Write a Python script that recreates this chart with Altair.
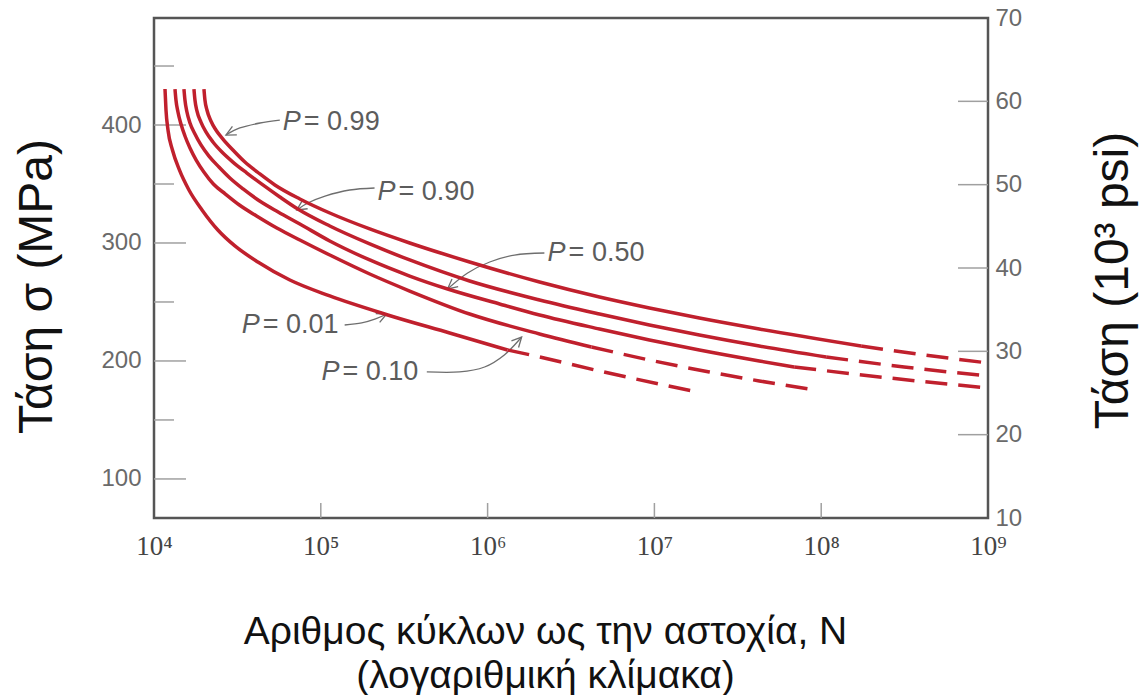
import altair as alt
import pandas as pd

# ---------------- data (N = cycles to failure, S = stress in MPa) ----------------
p99_N = [1.993e4, 2.020e4, 2.077e4, 2.194e4, 2.351e4, 2.590e4, 2.972e4, 3.507e4, 4.313e4, 5.305e4, 7.488e4,
         1.132e5, 1.965e5, 3.412e5, 7.803e5, 2.048e6, 4.686e6, 9.335e6, 1.860e7, 4.254e7, 1.736e8]
p99_S = [430.5, 421.2, 412.7, 403.4, 395.8, 388.1, 378.8, 368.6, 358.5, 349.2, 337.3,
         325.4, 311.9, 300.0, 283.9, 266.9, 254.2, 244.9, 236.4, 227.1, 212.7]
p99_dN = [1.736e8, 4.139e8, 1e9]
p99_dS = [212.7, 205.1, 198.3]

p90_N = [1.736e4, 1.760e4, 1.809e4, 1.912e4, 2.048e4, 2.256e4, 2.554e4, 2.972e4, 3.605e4, 4.495e4, 5.684e4,
         7.284e4, 1.132e5, 1.965e5, 3.412e5, 7.803e5, 2.048e6, 4.686e6, 9.335e6, 1.860e7, 4.254e7, 1.071e8]
p90_S = [430.5, 421.2, 411.9, 402.5, 394.1, 385.6, 377.1, 368.6, 359.3, 349.2, 339.0,
         328.8, 314.4, 299.2, 285.6, 267.8, 251.7, 239.8, 230.5, 222.0, 212.7, 203.4]
p90_dN = [1.071e8, 3.141e8, 1e9]
p90_dS = [203.4, 194.9, 187.3]

p50_N = [1.512e4, 1.533e4, 1.576e4, 1.643e4, 1.760e4, 1.912e4, 2.135e4, 2.451e4, 2.850e4, 3.420e4, 4.300e4,
         5.550e4, 7.488e4, 1.132e5, 1.965e5, 3.412e5, 5.762e5, 1.180e6, 2.048e6, 4.686e6, 9.335e6, 1.860e7,
         4.254e7, 6.890e7]
p50_S = [430.5, 421.2, 411.0, 401.7, 392.4, 383.1, 373.7, 364.4, 355.1, 345.8, 335.6,
         326.3, 316.1, 301.7, 285.6, 272.0, 261.0, 248.3, 239.0, 227.1, 217.8, 209.3,
         200.0, 194.9]
p50_dN = [6.890e7, 2.554e8, 1e9]
p50_dS = [194.9, 185.6, 177.1]

p10_N = [1.336e4, 1.354e4, 1.392e4, 1.451e4, 1.533e4, 1.643e4, 1.790e4, 1.990e4, 2.270e4, 2.680e4, 3.250e4,
         4.120e4, 5.450e4, 7.488e4, 1.132e5, 1.965e5, 3.412e5, 7.803e5, 2.048e6, 4.196e6]
p10_S = [430.5, 421.2, 411.0, 400.8, 390.7, 380.5, 370.3, 360.2, 350.0, 341.5, 332.2,
         322.9, 312.7, 302.5, 289.8, 273.7, 259.3, 239.8, 222.9, 211.9]
p10_dN = [4.196e6, 9.335e6, 2.135e7, 4.254e7, 8.478e7]
p10_dS = [211.9, 200.8, 190.7, 183.1, 176.3]

p01_N = [1.164e4, 1.180e4, 1.213e4, 1.290e4, 1.420e4, 1.620e4, 1.940e4, 2.415e4, 3.055e4, 4.196e4, 6.523e4,
         1.132e5, 2.519e5, 5.923e5, 1.318e6]
p01_S = [430.5, 412.7, 395.8, 378.8, 361.9, 344.9, 328.0, 311.0, 297.5, 283.9, 268.6,
         255.1, 239.0, 223.7, 209.3]
p01_dN = [1.318e6, 2.048e6, 4.686e6, 1.689e7]
p01_dS = [209.3, 203.4, 191.5, 174.6]

# annotation labels
label_P = ["0.99", "0.90", "0.50", "0.01", "0.10"]
label_N = [5.92e4, 2.19e5, 2.29e6, 3.36e4, 1.01e5]
label_S = [402.5, 343.2, 291.5, 230.5, 190.7]

# annotation arrows (label -> curve)
arrow_99_N = [5.68e4, 4.32e4, 3.27e4, 2.70e4]
arrow_99_S = [404.2, 401.7, 397.5, 391.5]
arrow_90_N = [2.10e5, 1.49e5, 1.06e5, 8.36e4, 7.18e4]
arrow_90_S = [346.6, 344.9, 339.8, 333.9, 328.0]
arrow_50_N = [2.19e6, 1.45e6, 1.03e6, 7.59e5, 5.75e5]
arrow_50_S = [291.5, 289.8, 283.9, 274.6, 261.0]
arrow_01_N = [1.39e5, 1.76e5, 2.13e5, 2.48e5]
arrow_01_S = [230.5, 232.2, 235.6, 239.8]
arrow_10_N = [4.32e5, 6.79e5, 9.59e5, 1.26e6, 1.60e6]
arrow_10_S = [190.7, 190.7, 194.9, 205.1, 220.3]
arrow_head_angle = [153, 147, 141, 336, 313]

# axis ticks
mpa_major = [100, 200, 300, 400]
mpa_minor = [150, 250, 350, 450]
ksi_ticks = [20, 30, 40, 50, 60]
ksi_labels = [10, 20, 30, 40, 50, 60, 70]
decades = [1e4, 1e5, 1e6, 1e7, 1e8, 1e9]

# ---------------- build tables ----------------
curves = [
    ("0.99", p99_N, p99_S, p99_dN, p99_dS),
    ("0.90", p90_N, p90_S, p90_dN, p90_dS),
    ("0.50", p50_N, p50_S, p50_dN, p50_dS),
    ("0.10", p10_N, p10_S, p10_dN, p10_dS),
    ("0.01", p01_N, p01_S, p01_dN, p01_dS),
]
solid_rows, dash_rows = [], []
for p, n, s, dn, ds in curves:
    for i, (a, b) in enumerate(zip(n, s)):
        solid_rows.append({"N": a, "S": b, "P": p, "i": i})
    for i, (a, b) in enumerate(zip(dn, ds)):
        dash_rows.append({"N": a, "S": b, "P": p, "i": i})
df_solid = pd.DataFrame(solid_rows)
df_dash = pd.DataFrame(dash_rows)

arrows = [
    ("0.99", arrow_99_N, arrow_99_S),
    ("0.90", arrow_90_N, arrow_90_S),
    ("0.50", arrow_50_N, arrow_50_S),
    ("0.01", arrow_01_N, arrow_01_S),
    ("0.10", arrow_10_N, arrow_10_S),
]
arrow_rows, head_rows = [], []
for k, (p, n, s) in enumerate(arrows):
    for i, (a, b) in enumerate(zip(n, s)):
        arrow_rows.append({"N": a, "S": b, "P": p, "i": i})
    head_rows.append({"N": n[-1], "S": s[-1], "ang": arrow_head_angle[k]})
df_arrow = pd.DataFrame(arrow_rows)
df_head = pd.DataFrame(head_rows)

df_labels = pd.DataFrame({"N": label_N, "S": label_S,
                          "rest": ["= " + p for p in label_P], "P": ["P"] * len(label_P)})

RED = "#c0202d"
GRAY_TEXT = "#5c5c5c"
TICK = "#a0a0a0"
W, H = 834, 500

ax_bottom = alt.Axis(
    values=decades,
    labelExpr="'10' + ['⁰','¹','²','³','⁴','⁵','⁶','⁷','⁸','⁹'][round(log(datum.value)/LN10)]",
    labelFont="Liberation Serif", labelFontSize=27, labelColor="#444444",
    labelPadding=15, labelFlush=False, labelOverlap=False, labelBound=False,
    ticks=False, domain=False, grid=False,
    title=["Αριθμος κύκλων ως την αστοχία, N", "(λογαριθμική κλίμακα)"],
    titleFont="Liberation Sans", titleFontSize=39, titleFontWeight="normal",
    titleColor="#111111", titleLineHeight=44,
    titleX=391, titleY=94, titleBaseline="top", titleAlign="center", titleAnchor="start",
)
ax_left = alt.Axis(
    values=mpa_major, labelFont="Liberation Sans", labelFontSize=24, labelColor="#6a6a6a",
    labelPadding=13, ticks=False, domain=False, grid=False,
    title="Τάση σ (MPa)", titleFont="Liberation Sans", titleFontSize=48,
    titleFontWeight="normal", titleColor="#111111",
    titleAngle=270, titleBaseline="bottom", titleAlign="center", titleX=-93, titleY=268,
)
ax_right = alt.Axis(
    orient="right", values=ksi_labels, labelFont="Liberation Sans", labelFontSize=24,
    labelColor="#6a6a6a", labelPadding=7, ticks=False, domain=False, grid=False,
    title="Τάση (10³ psi)", titleFont="Liberation Sans", titleFontSize=48,
    titleFontWeight="normal", titleColor="#111111",
    titleAngle=270, titleBaseline="bottom", titleAlign="center", titleX=149, titleY=262,
)

xN = alt.X("N:Q", scale=alt.Scale(type="log", domain=[1e4, 1e9], nice=False), axis=ax_bottom)
yL = alt.Y("S:Q", scale=alt.Scale(domain=[66.9, 490.7], nice=False, zero=False), axis=ax_left)
yR = alt.Y("K:Q", scale=alt.Scale(domain=[10, 70], nice=False, zero=False), axis=ax_right)

solid = alt.Chart(df_solid).mark_line(color=RED, strokeWidth=3.5, interpolate="monotone").encode(
    x=xN, y=yL, detail="P:N", order="i:Q")
dashed = alt.Chart(df_dash).mark_line(color=RED, strokeWidth=3.5, strokeDash=[22, 11],
                                      strokeCap="butt", interpolate="monotone").encode(
    x=xN, y=yL, detail="P:N", order="i:Q")

tick_major = alt.Chart(pd.DataFrame({"S": mpa_major})).mark_rule(color=TICK, strokeWidth=1.5).encode(
    y=yL, x=alt.value(0), x2=alt.value(32))
tick_minor = alt.Chart(pd.DataFrame({"S": mpa_minor})).mark_rule(color=TICK, strokeWidth=1.5).encode(
    y=yL, x=alt.value(0), x2=alt.value(20))
tick_bottom = alt.Chart(pd.DataFrame({"N": decades[1:-1]})).mark_rule(color=TICK, strokeWidth=1.5).encode(
    x=xN, y=alt.value(H - 15), y2=alt.value(H))

arrow_lines = alt.Chart(df_arrow).mark_line(color="#6e6e6e", strokeWidth=1.3, interpolate="cardinal").encode(
    x=xN, y=yL, detail="P:N", order="i:Q")
arrow_heads = alt.Chart(df_head).mark_point(
    shape="M-1,-0.5L0,0L-1,0.5", filled=False, size=380, color="#6e6e6e", strokeWidth=1.3, opacity=1
).encode(x=xN, y=yL, angle=alt.Angle("ang:Q", scale=None))

txt_P = alt.Chart(df_labels).mark_text(
    font="Liberation Sans", fontSize=27, fontStyle="italic", color=GRAY_TEXT, align="left", baseline="middle"
).encode(x=xN, y=yL, text="P:N")
txt_rest = alt.Chart(df_labels).mark_text(
    font="Liberation Sans", fontSize=27, color=GRAY_TEXT, align="left", baseline="middle", dx=21
).encode(x=xN, y=yL, text="rest:N")

left = alt.layer(tick_major, tick_minor, tick_bottom, arrow_lines, arrow_heads, txt_P, txt_rest, solid, dashed)

right = alt.Chart(pd.DataFrame({"K": ksi_ticks})).mark_rule(color=TICK, strokeWidth=1.5).encode(
    y=yR, x=alt.value(W - 30), x2=alt.value(W))

chart = alt.layer(left, right).resolve_scale(y="independent").properties(
    width=W, height=H,
    autosize=alt.AutoSizeParams(type="none"),
    padding={"left": 154, "top": 18, "right": 152, "bottom": 177},
    background="white",
).configure_view(stroke="#555555", strokeWidth=2.5)

chart.save("out.html", embed_options={"renderer": "svg", "actions": False})
